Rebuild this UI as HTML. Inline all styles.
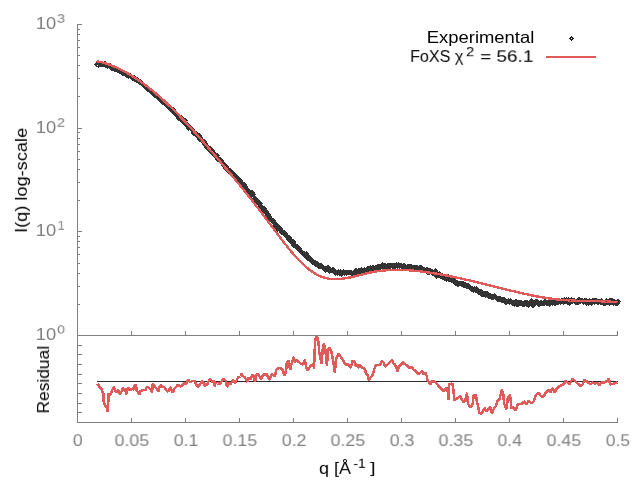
<!DOCTYPE html>
<html><head><meta charset="utf-8"><style>
html,body{margin:0;padding:0;background:#fff;width:640px;height:480px;overflow:hidden}
body{position:relative;font-family:"Liberation Sans",sans-serif}
.t{position:absolute;will-change:transform;-webkit-font-smoothing:antialiased;white-space:nowrap;line-height:1;font-size:16px;transform-origin:0 0;left:0;top:0}
.g{color:#808080}
.k{color:#000}
</style></head><body>
<svg width="640" height="480" viewBox="0 0 640 480" style="position:absolute;left:0;top:0">
<rect x="77" y="24" width="1" height="399" fill="#808080"/>
<rect x="77" y="422" width="541" height="1" fill="#808080"/>
<rect x="77" y="335" width="541" height="1" fill="#808080"/>
<rect x="77" y="335" width="5" height="1" fill="#808080"/>
<rect x="77" y="304" width="3" height="1" fill="#808080"/>
<rect x="77" y="286" width="3" height="1" fill="#808080"/>
<rect x="77" y="273" width="3" height="1" fill="#808080"/>
<rect x="77" y="263" width="3" height="1" fill="#808080"/>
<rect x="77" y="254" width="3" height="1" fill="#808080"/>
<rect x="77" y="247" width="3" height="1" fill="#808080"/>
<rect x="77" y="241" width="3" height="1" fill="#808080"/>
<rect x="77" y="236" width="3" height="1" fill="#808080"/>
<rect x="77" y="231" width="5" height="1" fill="#808080"/>
<rect x="77" y="200" width="3" height="1" fill="#808080"/>
<rect x="77" y="182" width="3" height="1" fill="#808080"/>
<rect x="77" y="169" width="3" height="1" fill="#808080"/>
<rect x="77" y="159" width="3" height="1" fill="#808080"/>
<rect x="77" y="151" width="3" height="1" fill="#808080"/>
<rect x="77" y="144" width="3" height="1" fill="#808080"/>
<rect x="77" y="138" width="3" height="1" fill="#808080"/>
<rect x="77" y="132" width="3" height="1" fill="#808080"/>
<rect x="77" y="128" width="5" height="1" fill="#808080"/>
<rect x="77" y="96" width="3" height="1" fill="#808080"/>
<rect x="77" y="78" width="3" height="1" fill="#808080"/>
<rect x="77" y="65" width="3" height="1" fill="#808080"/>
<rect x="77" y="55" width="3" height="1" fill="#808080"/>
<rect x="77" y="47" width="3" height="1" fill="#808080"/>
<rect x="77" y="40" width="3" height="1" fill="#808080"/>
<rect x="77" y="34" width="3" height="1" fill="#808080"/>
<rect x="77" y="29" width="3" height="1" fill="#808080"/>
<rect x="77" y="24" width="5" height="1" fill="#808080"/>
<rect x="77" y="331" width="1" height="5" fill="#808080"/>
<rect x="77" y="418" width="1" height="5" fill="#808080"/>
<rect x="131" y="331" width="1" height="5" fill="#808080"/>
<rect x="131" y="418" width="1" height="5" fill="#808080"/>
<rect x="185" y="331" width="1" height="5" fill="#808080"/>
<rect x="185" y="418" width="1" height="5" fill="#808080"/>
<rect x="239" y="331" width="1" height="5" fill="#808080"/>
<rect x="239" y="418" width="1" height="5" fill="#808080"/>
<rect x="293" y="331" width="1" height="5" fill="#808080"/>
<rect x="293" y="418" width="1" height="5" fill="#808080"/>
<rect x="347" y="331" width="1" height="5" fill="#808080"/>
<rect x="347" y="418" width="1" height="5" fill="#808080"/>
<rect x="401" y="331" width="1" height="5" fill="#808080"/>
<rect x="401" y="418" width="1" height="5" fill="#808080"/>
<rect x="455" y="331" width="1" height="5" fill="#808080"/>
<rect x="455" y="418" width="1" height="5" fill="#808080"/>
<rect x="509" y="331" width="1" height="5" fill="#808080"/>
<rect x="509" y="418" width="1" height="5" fill="#808080"/>
<rect x="563" y="331" width="1" height="5" fill="#808080"/>
<rect x="563" y="418" width="1" height="5" fill="#808080"/>
<rect x="617" y="331" width="1" height="5" fill="#808080"/>
<rect x="617" y="418" width="1" height="5" fill="#808080"/>
<rect x="77" y="345" width="5" height="1" fill="#808080"/>
<rect x="77" y="354" width="5" height="1" fill="#808080"/>
<rect x="77" y="364" width="5" height="1" fill="#808080"/>
<rect x="77" y="374" width="5" height="1" fill="#808080"/>
<rect x="77" y="383" width="5" height="1" fill="#808080"/>
<rect x="77" y="393" width="5" height="1" fill="#808080"/>
<rect x="77" y="403" width="5" height="1" fill="#808080"/>
<rect x="77" y="412" width="5" height="1" fill="#808080"/>
<rect x="97" y="381" width="521" height="1" fill="#2b2b2b"/>
<path d="M97.3 62.3l2.3 2.3l-2.3 2.3l-2.3 -2.3zM98.2 62.6l2.3 2.3l-2.3 2.3l-2.3 -2.3z" fill="none" stroke="#333333" stroke-width="1.1" shape-rendering="crispEdges"/>
<path d="M100.2 62.1l2.3 2.3l-2.3 2.3l-2.3 -2.3zM101.1 62.2l2.3 2.3l-2.3 2.3l-2.3 -2.3zM102.1 61.4l2.3 2.3l-2.3 2.3l-2.3 -2.3zM103.0 62.6l2.3 2.3l-2.3 2.3l-2.3 -2.3zM104.0 62.4l2.3 2.3l-2.3 2.3l-2.3 -2.3zM104.9 61.6l2.3 2.3l-2.3 2.3l-2.3 -2.3zM105.9 63.3l2.3 2.3l-2.3 2.3l-2.3 -2.3zM106.8 62.8l2.3 2.3l-2.3 2.3l-2.3 -2.3zM107.8 63.5l2.3 2.3l-2.3 2.3l-2.3 -2.3zM108.7 63.1l2.3 2.3l-2.3 2.3l-2.3 -2.3zM109.7 64.0l2.3 2.3l-2.3 2.3l-2.3 -2.3zM110.6 64.0l2.3 2.3l-2.3 2.3l-2.3 -2.3zM111.6 65.3l2.3 2.3l-2.3 2.3l-2.3 -2.3zM112.5 65.4l2.3 2.3l-2.3 2.3l-2.3 -2.3zM113.5 65.6l2.3 2.3l-2.3 2.3l-2.3 -2.3zM114.4 66.2l2.3 2.3l-2.3 2.3l-2.3 -2.3zM115.4 67.2l2.3 2.3l-2.3 2.3l-2.3 -2.3zM116.3 67.0l2.3 2.3l-2.3 2.3l-2.3 -2.3zM117.3 67.9l2.3 2.3l-2.3 2.3l-2.3 -2.3zM118.2 67.8l2.3 2.3l-2.3 2.3l-2.3 -2.3zM119.2 68.1l2.3 2.3l-2.3 2.3l-2.3 -2.3zM120.1 69.0l2.3 2.3l-2.3 2.3l-2.3 -2.3zM121.1 69.5l2.3 2.3l-2.3 2.3l-2.3 -2.3zM122.0 70.2l2.3 2.3l-2.3 2.3l-2.3 -2.3zM123.0 70.9l2.3 2.3l-2.3 2.3l-2.3 -2.3zM123.9 70.9l2.3 2.3l-2.3 2.3l-2.3 -2.3zM124.9 71.4l2.3 2.3l-2.3 2.3l-2.3 -2.3zM125.8 72.3l2.3 2.3l-2.3 2.3l-2.3 -2.3zM126.8 72.7l2.3 2.3l-2.3 2.3l-2.3 -2.3zM127.7 73.0l2.3 2.3l-2.3 2.3l-2.3 -2.3zM128.7 73.6l2.3 2.3l-2.3 2.3l-2.3 -2.3zM129.6 73.2l2.3 2.3l-2.3 2.3l-2.3 -2.3zM130.6 74.2l2.3 2.3l-2.3 2.3l-2.3 -2.3zM131.5 74.3l2.3 2.3l-2.3 2.3l-2.3 -2.3zM132.5 75.3l2.3 2.3l-2.3 2.3l-2.3 -2.3zM133.4 76.2l2.3 2.3l-2.3 2.3l-2.3 -2.3zM134.4 75.8l2.3 2.3l-2.3 2.3l-2.3 -2.3zM135.3 77.2l2.3 2.3l-2.3 2.3l-2.3 -2.3zM136.2 77.2l2.3 2.3l-2.3 2.3l-2.3 -2.3zM137.2 77.9l2.3 2.3l-2.3 2.3l-2.3 -2.3zM138.1 78.4l2.3 2.3l-2.3 2.3l-2.3 -2.3zM139.1 79.5l2.3 2.3l-2.3 2.3l-2.3 -2.3zM140.0 79.7l2.3 2.3l-2.3 2.3l-2.3 -2.3zM141.0 79.9l2.3 2.3l-2.3 2.3l-2.3 -2.3zM141.9 81.4l2.3 2.3l-2.3 2.3l-2.3 -2.3zM142.9 82.1l2.3 2.3l-2.3 2.3l-2.3 -2.3zM143.8 83.1l2.3 2.3l-2.3 2.3l-2.3 -2.3zM144.8 83.9l2.3 2.3l-2.3 2.3l-2.3 -2.3zM145.7 84.1l2.3 2.3l-2.3 2.3l-2.3 -2.3zM146.7 85.5l2.3 2.3l-2.3 2.3l-2.3 -2.3zM147.6 86.3l2.3 2.3l-2.3 2.3l-2.3 -2.3zM148.6 87.1l2.3 2.3l-2.3 2.3l-2.3 -2.3zM149.5 88.0l2.3 2.3l-2.3 2.3l-2.3 -2.3zM150.5 88.9l2.3 2.3l-2.3 2.3l-2.3 -2.3zM151.4 89.5l2.3 2.3l-2.3 2.3l-2.3 -2.3zM152.4 90.4l2.3 2.3l-2.3 2.3l-2.3 -2.3zM153.3 91.6l2.3 2.3l-2.3 2.3l-2.3 -2.3zM154.3 91.7l2.3 2.3l-2.3 2.3l-2.3 -2.3zM155.2 92.9l2.3 2.3l-2.3 2.3l-2.3 -2.3zM156.2 93.4l2.3 2.3l-2.3 2.3l-2.3 -2.3zM157.1 94.2l2.3 2.3l-2.3 2.3l-2.3 -2.3zM158.1 95.2l2.3 2.3l-2.3 2.3l-2.3 -2.3zM159.0 96.2l2.3 2.3l-2.3 2.3l-2.3 -2.3zM160.0 97.5l2.3 2.3l-2.3 2.3l-2.3 -2.3zM160.9 97.7l2.3 2.3l-2.3 2.3l-2.3 -2.3zM161.9 98.9l2.3 2.3l-2.3 2.3l-2.3 -2.3zM162.8 99.6l2.3 2.3l-2.3 2.3l-2.3 -2.3zM163.8 100.3l2.3 2.3l-2.3 2.3l-2.3 -2.3zM164.7 100.1l2.3 2.3l-2.3 2.3l-2.3 -2.3zM165.7 102.0l2.3 2.3l-2.3 2.3l-2.3 -2.3zM166.6 102.9l2.3 2.3l-2.3 2.3l-2.3 -2.3zM167.6 103.3l2.3 2.3l-2.3 2.3l-2.3 -2.3zM168.5 104.6l2.3 2.3l-2.3 2.3l-2.3 -2.3zM169.5 106.0l2.3 2.3l-2.3 2.3l-2.3 -2.3zM170.4 105.3l2.3 2.3l-2.3 2.3l-2.3 -2.3zM171.4 106.8l2.3 2.3l-2.3 2.3l-2.3 -2.3zM172.3 108.9l2.3 2.3l-2.3 2.3l-2.3 -2.3zM173.3 107.4l2.3 2.3l-2.3 2.3l-2.3 -2.3zM174.2 109.0l2.3 2.3l-2.3 2.3l-2.3 -2.3zM175.2 111.1l2.3 2.3l-2.3 2.3l-2.3 -2.3zM176.1 112.6l2.3 2.3l-2.3 2.3l-2.3 -2.3zM177.1 113.7l2.3 2.3l-2.3 2.3l-2.3 -2.3zM178.0 114.3l2.3 2.3l-2.3 2.3l-2.3 -2.3zM179.0 116.6l2.3 2.3l-2.3 2.3l-2.3 -2.3zM179.9 115.8l2.3 2.3l-2.3 2.3l-2.3 -2.3zM180.9 115.2l2.3 2.3l-2.3 2.3l-2.3 -2.3zM181.8 117.1l2.3 2.3l-2.3 2.3l-2.3 -2.3zM182.8 118.8l2.3 2.3l-2.3 2.3l-2.3 -2.3zM183.7 119.5l2.3 2.3l-2.3 2.3l-2.3 -2.3zM184.7 118.4l2.3 2.3l-2.3 2.3l-2.3 -2.3zM185.6 121.5l2.3 2.3l-2.3 2.3l-2.3 -2.3zM186.6 121.4l2.3 2.3l-2.3 2.3l-2.3 -2.3zM187.5 122.9l2.3 2.3l-2.3 2.3l-2.3 -2.3zM188.5 125.3l2.3 2.3l-2.3 2.3l-2.3 -2.3zM189.4 124.8l2.3 2.3l-2.3 2.3l-2.3 -2.3zM190.4 125.4l2.3 2.3l-2.3 2.3l-2.3 -2.3zM191.3 126.8l2.3 2.3l-2.3 2.3l-2.3 -2.3zM192.3 127.3l2.3 2.3l-2.3 2.3l-2.3 -2.3zM193.2 130.8l2.3 2.3l-2.3 2.3l-2.3 -2.3zM194.2 130.6l2.3 2.3l-2.3 2.3l-2.3 -2.3zM195.1 131.7l2.3 2.3l-2.3 2.3l-2.3 -2.3zM196.1 131.3l2.3 2.3l-2.3 2.3l-2.3 -2.3zM197.0 132.3l2.3 2.3l-2.3 2.3l-2.3 -2.3zM198.0 134.1l2.3 2.3l-2.3 2.3l-2.3 -2.3zM198.9 132.9l2.3 2.3l-2.3 2.3l-2.3 -2.3zM199.9 136.8l2.3 2.3l-2.3 2.3l-2.3 -2.3zM200.8 135.8l2.3 2.3l-2.3 2.3l-2.3 -2.3zM201.8 138.0l2.3 2.3l-2.3 2.3l-2.3 -2.3zM202.7 139.3l2.3 2.3l-2.3 2.3l-2.3 -2.3zM203.7 139.3l2.3 2.3l-2.3 2.3l-2.3 -2.3zM204.6 141.3l2.3 2.3l-2.3 2.3l-2.3 -2.3zM205.6 142.6l2.3 2.3l-2.3 2.3l-2.3 -2.3zM206.5 144.8l2.3 2.3l-2.3 2.3l-2.3 -2.3zM207.5 144.4l2.3 2.3l-2.3 2.3l-2.3 -2.3zM208.4 146.7l2.3 2.3l-2.3 2.3l-2.3 -2.3zM209.4 146.6l2.3 2.3l-2.3 2.3l-2.3 -2.3zM210.3 147.0l2.3 2.3l-2.3 2.3l-2.3 -2.3zM211.3 149.0l2.3 2.3l-2.3 2.3l-2.3 -2.3zM212.2 148.8l2.3 2.3l-2.3 2.3l-2.3 -2.3zM213.2 150.4l2.3 2.3l-2.3 2.3l-2.3 -2.3zM214.1 151.9l2.3 2.3l-2.3 2.3l-2.3 -2.3zM215.1 153.4l2.3 2.3l-2.3 2.3l-2.3 -2.3zM216.0 153.7l2.3 2.3l-2.3 2.3l-2.3 -2.3zM217.0 153.2l2.3 2.3l-2.3 2.3l-2.3 -2.3zM217.9 156.7l2.3 2.3l-2.3 2.3l-2.3 -2.3zM218.9 156.7l2.3 2.3l-2.3 2.3l-2.3 -2.3zM219.8 157.4l2.3 2.3l-2.3 2.3l-2.3 -2.3zM220.8 158.0l2.3 2.3l-2.3 2.3l-2.3 -2.3zM221.7 160.3l2.3 2.3l-2.3 2.3l-2.3 -2.3zM222.7 161.1l2.3 2.3l-2.3 2.3l-2.3 -2.3zM223.6 162.5l2.3 2.3l-2.3 2.3l-2.3 -2.3zM224.6 162.8l2.3 2.3l-2.3 2.3l-2.3 -2.3zM225.5 165.4l2.3 2.3l-2.3 2.3l-2.3 -2.3zM226.5 164.8l2.3 2.3l-2.3 2.3l-2.3 -2.3zM227.4 166.5l2.3 2.3l-2.3 2.3l-2.3 -2.3zM228.4 167.3l2.3 2.3l-2.3 2.3l-2.3 -2.3zM229.3 169.1l2.3 2.3l-2.3 2.3l-2.3 -2.3zM230.3 168.6l2.3 2.3l-2.3 2.3l-2.3 -2.3zM231.2 170.0l2.3 2.3l-2.3 2.3l-2.3 -2.3zM232.2 171.1l2.3 2.3l-2.3 2.3l-2.3 -2.3zM233.1 171.7l2.3 2.3l-2.3 2.3l-2.3 -2.3zM234.1 172.7l2.3 2.3l-2.3 2.3l-2.3 -2.3zM235.0 173.2l2.3 2.3l-2.3 2.3l-2.3 -2.3zM236.0 176.0l2.3 2.3l-2.3 2.3l-2.3 -2.3zM236.9 177.7l2.3 2.3l-2.3 2.3l-2.3 -2.3zM237.9 176.5l2.3 2.3l-2.3 2.3l-2.3 -2.3zM238.8 179.1l2.3 2.3l-2.3 2.3l-2.3 -2.3zM239.8 178.4l2.3 2.3l-2.3 2.3l-2.3 -2.3zM240.7 179.7l2.3 2.3l-2.3 2.3l-2.3 -2.3zM241.7 181.2l2.3 2.3l-2.3 2.3l-2.3 -2.3zM242.6 182.6l2.3 2.3l-2.3 2.3l-2.3 -2.3zM243.6 183.9l2.3 2.3l-2.3 2.3l-2.3 -2.3zM244.5 182.8l2.3 2.3l-2.3 2.3l-2.3 -2.3zM245.5 184.4l2.3 2.3l-2.3 2.3l-2.3 -2.3zM246.4 186.7l2.3 2.3l-2.3 2.3l-2.3 -2.3zM247.4 187.4l2.3 2.3l-2.3 2.3l-2.3 -2.3zM248.3 190.6l2.3 2.3l-2.3 2.3l-2.3 -2.3zM249.3 189.5l2.3 2.3l-2.3 2.3l-2.3 -2.3zM250.2 190.3l2.3 2.3l-2.3 2.3l-2.3 -2.3zM251.2 193.0l2.3 2.3l-2.3 2.3l-2.3 -2.3zM252.1 190.6l2.3 2.3l-2.3 2.3l-2.3 -2.3zM253.1 192.5l2.3 2.3l-2.3 2.3l-2.3 -2.3zM254.0 197.7l2.3 2.3l-2.3 2.3l-2.3 -2.3zM255.0 195.8l2.3 2.3l-2.3 2.3l-2.3 -2.3zM255.9 197.6l2.3 2.3l-2.3 2.3l-2.3 -2.3zM256.9 198.5l2.3 2.3l-2.3 2.3l-2.3 -2.3zM257.8 199.1l2.3 2.3l-2.3 2.3l-2.3 -2.3zM258.8 200.9l2.3 2.3l-2.3 2.3l-2.3 -2.3zM259.7 201.1l2.3 2.3l-2.3 2.3l-2.3 -2.3zM260.7 204.4l2.3 2.3l-2.3 2.3l-2.3 -2.3zM261.6 205.4l2.3 2.3l-2.3 2.3l-2.3 -2.3zM262.6 206.6l2.3 2.3l-2.3 2.3l-2.3 -2.3zM263.5 206.4l2.3 2.3l-2.3 2.3l-2.3 -2.3zM264.5 206.8l2.3 2.3l-2.3 2.3l-2.3 -2.3zM265.4 209.3l2.3 2.3l-2.3 2.3l-2.3 -2.3zM266.4 210.1l2.3 2.3l-2.3 2.3l-2.3 -2.3zM267.3 212.6l2.3 2.3l-2.3 2.3l-2.3 -2.3zM268.3 212.1l2.3 2.3l-2.3 2.3l-2.3 -2.3zM269.2 214.0l2.3 2.3l-2.3 2.3l-2.3 -2.3zM270.2 216.1l2.3 2.3l-2.3 2.3l-2.3 -2.3zM271.1 217.6l2.3 2.3l-2.3 2.3l-2.3 -2.3zM272.1 218.5l2.3 2.3l-2.3 2.3l-2.3 -2.3zM273.0 218.4l2.3 2.3l-2.3 2.3l-2.3 -2.3zM274.0 220.1l2.3 2.3l-2.3 2.3l-2.3 -2.3zM274.9 223.6l2.3 2.3l-2.3 2.3l-2.3 -2.3zM275.9 223.7l2.3 2.3l-2.3 2.3l-2.3 -2.3zM276.8 223.1l2.3 2.3l-2.3 2.3l-2.3 -2.3zM277.8 226.6l2.3 2.3l-2.3 2.3l-2.3 -2.3zM278.7 225.7l2.3 2.3l-2.3 2.3l-2.3 -2.3zM279.7 226.8l2.3 2.3l-2.3 2.3l-2.3 -2.3zM280.6 227.0l2.3 2.3l-2.3 2.3l-2.3 -2.3zM281.6 230.1l2.3 2.3l-2.3 2.3l-2.3 -2.3zM282.5 229.7l2.3 2.3l-2.3 2.3l-2.3 -2.3zM283.5 230.5l2.3 2.3l-2.3 2.3l-2.3 -2.3zM284.4 230.7l2.3 2.3l-2.3 2.3l-2.3 -2.3zM285.4 231.3l2.3 2.3l-2.3 2.3l-2.3 -2.3zM286.3 233.6l2.3 2.3l-2.3 2.3l-2.3 -2.3zM287.3 234.4l2.3 2.3l-2.3 2.3l-2.3 -2.3zM288.2 236.7l2.3 2.3l-2.3 2.3l-2.3 -2.3zM289.2 235.5l2.3 2.3l-2.3 2.3l-2.3 -2.3zM290.1 237.0l2.3 2.3l-2.3 2.3l-2.3 -2.3zM291.1 239.2l2.3 2.3l-2.3 2.3l-2.3 -2.3zM292.0 240.0l2.3 2.3l-2.3 2.3l-2.3 -2.3zM293.0 239.7l2.3 2.3l-2.3 2.3l-2.3 -2.3zM293.9 242.6l2.3 2.3l-2.3 2.3l-2.3 -2.3zM294.9 242.7l2.3 2.3l-2.3 2.3l-2.3 -2.3zM295.8 244.0l2.3 2.3l-2.3 2.3l-2.3 -2.3zM296.8 244.5l2.3 2.3l-2.3 2.3l-2.3 -2.3zM297.7 246.1l2.3 2.3l-2.3 2.3l-2.3 -2.3zM298.7 245.8l2.3 2.3l-2.3 2.3l-2.3 -2.3zM299.6 247.0l2.3 2.3l-2.3 2.3l-2.3 -2.3zM300.6 249.1l2.3 2.3l-2.3 2.3l-2.3 -2.3zM301.5 249.4l2.3 2.3l-2.3 2.3l-2.3 -2.3zM302.5 250.3l2.3 2.3l-2.3 2.3l-2.3 -2.3zM303.4 251.9l2.3 2.3l-2.3 2.3l-2.3 -2.3zM304.4 252.0l2.3 2.3l-2.3 2.3l-2.3 -2.3zM305.3 253.1l2.3 2.3l-2.3 2.3l-2.3 -2.3zM306.3 251.6l2.3 2.3l-2.3 2.3l-2.3 -2.3zM307.2 254.0l2.3 2.3l-2.3 2.3l-2.3 -2.3zM308.2 256.1l2.3 2.3l-2.3 2.3l-2.3 -2.3zM309.1 255.4l2.3 2.3l-2.3 2.3l-2.3 -2.3zM310.1 256.7l2.3 2.3l-2.3 2.3l-2.3 -2.3zM311.0 257.9l2.3 2.3l-2.3 2.3l-2.3 -2.3zM312.0 258.4l2.3 2.3l-2.3 2.3l-2.3 -2.3zM312.9 260.0l2.3 2.3l-2.3 2.3l-2.3 -2.3zM313.9 260.4l2.3 2.3l-2.3 2.3l-2.3 -2.3zM314.8 260.5l2.3 2.3l-2.3 2.3l-2.3 -2.3zM315.8 262.2l2.3 2.3l-2.3 2.3l-2.3 -2.3zM316.7 261.6l2.3 2.3l-2.3 2.3l-2.3 -2.3zM317.7 261.8l2.3 2.3l-2.3 2.3l-2.3 -2.3zM318.6 263.3l2.3 2.3l-2.3 2.3l-2.3 -2.3zM319.6 264.1l2.3 2.3l-2.3 2.3l-2.3 -2.3zM320.5 263.9l2.3 2.3l-2.3 2.3l-2.3 -2.3zM321.5 263.6l2.3 2.3l-2.3 2.3l-2.3 -2.3zM322.4 264.5l2.3 2.3l-2.3 2.3l-2.3 -2.3zM323.4 265.6l2.3 2.3l-2.3 2.3l-2.3 -2.3zM324.3 266.3l2.3 2.3l-2.3 2.3l-2.3 -2.3zM325.3 267.7l2.3 2.3l-2.3 2.3l-2.3 -2.3zM326.2 266.3l2.3 2.3l-2.3 2.3l-2.3 -2.3zM327.2 266.6l2.3 2.3l-2.3 2.3l-2.3 -2.3zM328.1 265.2l2.3 2.3l-2.3 2.3l-2.3 -2.3zM329.1 268.6l2.3 2.3l-2.3 2.3l-2.3 -2.3zM330.0 268.3l2.3 2.3l-2.3 2.3l-2.3 -2.3zM331.0 268.1l2.3 2.3l-2.3 2.3l-2.3 -2.3zM331.9 268.0l2.3 2.3l-2.3 2.3l-2.3 -2.3zM332.9 267.1l2.3 2.3l-2.3 2.3l-2.3 -2.3zM333.8 269.4l2.3 2.3l-2.3 2.3l-2.3 -2.3zM334.8 268.8l2.3 2.3l-2.3 2.3l-2.3 -2.3zM335.7 270.4l2.3 2.3l-2.3 2.3l-2.3 -2.3zM336.7 270.2l2.3 2.3l-2.3 2.3l-2.3 -2.3zM337.6 270.7l2.3 2.3l-2.3 2.3l-2.3 -2.3zM338.6 270.0l2.3 2.3l-2.3 2.3l-2.3 -2.3zM339.5 271.0l2.3 2.3l-2.3 2.3l-2.3 -2.3zM340.5 269.5l2.3 2.3l-2.3 2.3l-2.3 -2.3zM341.4 271.4l2.3 2.3l-2.3 2.3l-2.3 -2.3zM342.4 270.5l2.3 2.3l-2.3 2.3l-2.3 -2.3zM343.3 269.9l2.3 2.3l-2.3 2.3l-2.3 -2.3zM344.3 270.4l2.3 2.3l-2.3 2.3l-2.3 -2.3zM345.2 270.1l2.3 2.3l-2.3 2.3l-2.3 -2.3zM346.2 270.8l2.3 2.3l-2.3 2.3l-2.3 -2.3zM347.1 270.2l2.3 2.3l-2.3 2.3l-2.3 -2.3zM348.1 269.9l2.3 2.3l-2.3 2.3l-2.3 -2.3zM349.0 270.4l2.3 2.3l-2.3 2.3l-2.3 -2.3zM350.0 270.4l2.3 2.3l-2.3 2.3l-2.3 -2.3zM350.9 270.5l2.3 2.3l-2.3 2.3l-2.3 -2.3zM351.9 270.7l2.3 2.3l-2.3 2.3l-2.3 -2.3zM352.8 271.0l2.3 2.3l-2.3 2.3l-2.3 -2.3zM353.8 270.3l2.3 2.3l-2.3 2.3l-2.3 -2.3zM354.7 270.9l2.3 2.3l-2.3 2.3l-2.3 -2.3zM355.7 268.3l2.3 2.3l-2.3 2.3l-2.3 -2.3zM356.6 269.6l2.3 2.3l-2.3 2.3l-2.3 -2.3zM357.6 270.0l2.3 2.3l-2.3 2.3l-2.3 -2.3zM358.5 268.5l2.3 2.3l-2.3 2.3l-2.3 -2.3zM359.5 269.0l2.3 2.3l-2.3 2.3l-2.3 -2.3zM360.4 269.0l2.3 2.3l-2.3 2.3l-2.3 -2.3zM361.4 267.8l2.3 2.3l-2.3 2.3l-2.3 -2.3zM362.3 268.1l2.3 2.3l-2.3 2.3l-2.3 -2.3zM363.3 268.6l2.3 2.3l-2.3 2.3l-2.3 -2.3zM364.2 267.9l2.3 2.3l-2.3 2.3l-2.3 -2.3zM365.2 268.8l2.3 2.3l-2.3 2.3l-2.3 -2.3zM366.1 269.0l2.3 2.3l-2.3 2.3l-2.3 -2.3zM367.1 267.4l2.3 2.3l-2.3 2.3l-2.3 -2.3zM368.0 266.5l2.3 2.3l-2.3 2.3l-2.3 -2.3zM369.0 266.9l2.3 2.3l-2.3 2.3l-2.3 -2.3zM369.9 266.4l2.3 2.3l-2.3 2.3l-2.3 -2.3zM370.9 265.7l2.3 2.3l-2.3 2.3l-2.3 -2.3zM371.8 266.1l2.3 2.3l-2.3 2.3l-2.3 -2.3zM372.8 265.8l2.3 2.3l-2.3 2.3l-2.3 -2.3zM373.7 265.7l2.3 2.3l-2.3 2.3l-2.3 -2.3zM374.7 266.2l2.3 2.3l-2.3 2.3l-2.3 -2.3zM375.6 266.1l2.3 2.3l-2.3 2.3l-2.3 -2.3zM376.6 265.5l2.3 2.3l-2.3 2.3l-2.3 -2.3zM377.5 264.9l2.3 2.3l-2.3 2.3l-2.3 -2.3zM378.5 265.2l2.3 2.3l-2.3 2.3l-2.3 -2.3zM379.4 264.8l2.3 2.3l-2.3 2.3l-2.3 -2.3zM380.4 264.8l2.3 2.3l-2.3 2.3l-2.3 -2.3zM381.3 263.9l2.3 2.3l-2.3 2.3l-2.3 -2.3zM382.3 262.5l2.3 2.3l-2.3 2.3l-2.3 -2.3zM383.2 264.8l2.3 2.3l-2.3 2.3l-2.3 -2.3zM384.2 263.8l2.3 2.3l-2.3 2.3l-2.3 -2.3zM385.1 263.7l2.3 2.3l-2.3 2.3l-2.3 -2.3zM386.1 263.9l2.3 2.3l-2.3 2.3l-2.3 -2.3zM387.0 263.8l2.3 2.3l-2.3 2.3l-2.3 -2.3zM388.0 263.6l2.3 2.3l-2.3 2.3l-2.3 -2.3zM388.9 264.6l2.3 2.3l-2.3 2.3l-2.3 -2.3zM389.9 263.8l2.3 2.3l-2.3 2.3l-2.3 -2.3zM390.8 263.8l2.3 2.3l-2.3 2.3l-2.3 -2.3zM391.8 263.1l2.3 2.3l-2.3 2.3l-2.3 -2.3zM392.7 263.5l2.3 2.3l-2.3 2.3l-2.3 -2.3zM393.7 263.8l2.3 2.3l-2.3 2.3l-2.3 -2.3zM394.6 263.5l2.3 2.3l-2.3 2.3l-2.3 -2.3zM395.6 263.8l2.3 2.3l-2.3 2.3l-2.3 -2.3zM396.5 263.0l2.3 2.3l-2.3 2.3l-2.3 -2.3zM397.5 263.8l2.3 2.3l-2.3 2.3l-2.3 -2.3zM398.4 263.0l2.3 2.3l-2.3 2.3l-2.3 -2.3zM399.4 263.4l2.3 2.3l-2.3 2.3l-2.3 -2.3zM400.3 263.3l2.3 2.3l-2.3 2.3l-2.3 -2.3zM401.3 263.9l2.3 2.3l-2.3 2.3l-2.3 -2.3zM402.2 264.5l2.3 2.3l-2.3 2.3l-2.3 -2.3zM403.2 264.1l2.3 2.3l-2.3 2.3l-2.3 -2.3zM404.1 263.5l2.3 2.3l-2.3 2.3l-2.3 -2.3zM405.1 264.2l2.3 2.3l-2.3 2.3l-2.3 -2.3zM406.0 264.9l2.3 2.3l-2.3 2.3l-2.3 -2.3zM407.0 264.8l2.3 2.3l-2.3 2.3l-2.3 -2.3zM407.9 264.8l2.3 2.3l-2.3 2.3l-2.3 -2.3zM408.9 263.9l2.3 2.3l-2.3 2.3l-2.3 -2.3zM409.8 264.4l2.3 2.3l-2.3 2.3l-2.3 -2.3zM410.8 264.5l2.3 2.3l-2.3 2.3l-2.3 -2.3zM411.7 264.8l2.3 2.3l-2.3 2.3l-2.3 -2.3zM412.7 265.3l2.3 2.3l-2.3 2.3l-2.3 -2.3zM413.6 265.4l2.3 2.3l-2.3 2.3l-2.3 -2.3zM414.6 265.3l2.3 2.3l-2.3 2.3l-2.3 -2.3zM415.5 266.1l2.3 2.3l-2.3 2.3l-2.3 -2.3zM416.5 265.5l2.3 2.3l-2.3 2.3l-2.3 -2.3zM417.4 265.9l2.3 2.3l-2.3 2.3l-2.3 -2.3zM418.4 266.4l2.3 2.3l-2.3 2.3l-2.3 -2.3zM419.3 265.7l2.3 2.3l-2.3 2.3l-2.3 -2.3zM420.3 266.0l2.3 2.3l-2.3 2.3l-2.3 -2.3zM421.2 265.7l2.3 2.3l-2.3 2.3l-2.3 -2.3zM422.2 266.3l2.3 2.3l-2.3 2.3l-2.3 -2.3zM423.1 267.3l2.3 2.3l-2.3 2.3l-2.3 -2.3zM424.1 267.6l2.3 2.3l-2.3 2.3l-2.3 -2.3zM425.0 268.2l2.3 2.3l-2.3 2.3l-2.3 -2.3zM426.0 268.5l2.3 2.3l-2.3 2.3l-2.3 -2.3zM426.9 267.4l2.3 2.3l-2.3 2.3l-2.3 -2.3zM427.9 270.4l2.3 2.3l-2.3 2.3l-2.3 -2.3zM428.8 270.2l2.3 2.3l-2.3 2.3l-2.3 -2.3zM429.8 268.2l2.3 2.3l-2.3 2.3l-2.3 -2.3zM430.7 268.9l2.3 2.3l-2.3 2.3l-2.3 -2.3zM431.7 269.4l2.3 2.3l-2.3 2.3l-2.3 -2.3zM432.6 270.3l2.3 2.3l-2.3 2.3l-2.3 -2.3zM433.6 271.0l2.3 2.3l-2.3 2.3l-2.3 -2.3zM434.5 270.8l2.3 2.3l-2.3 2.3l-2.3 -2.3zM435.5 268.8l2.3 2.3l-2.3 2.3l-2.3 -2.3zM436.4 274.0l2.3 2.3l-2.3 2.3l-2.3 -2.3zM437.4 272.5l2.3 2.3l-2.3 2.3l-2.3 -2.3zM438.3 272.8l2.3 2.3l-2.3 2.3l-2.3 -2.3zM439.3 271.7l2.3 2.3l-2.3 2.3l-2.3 -2.3zM440.2 272.8l2.3 2.3l-2.3 2.3l-2.3 -2.3zM441.2 273.9l2.3 2.3l-2.3 2.3l-2.3 -2.3zM442.1 273.0l2.3 2.3l-2.3 2.3l-2.3 -2.3zM443.1 274.8l2.3 2.3l-2.3 2.3l-2.3 -2.3zM444.0 274.2l2.3 2.3l-2.3 2.3l-2.3 -2.3zM445.0 275.9l2.3 2.3l-2.3 2.3l-2.3 -2.3zM445.9 274.9l2.3 2.3l-2.3 2.3l-2.3 -2.3zM446.9 276.6l2.3 2.3l-2.3 2.3l-2.3 -2.3zM447.8 274.2l2.3 2.3l-2.3 2.3l-2.3 -2.3zM448.8 277.3l2.3 2.3l-2.3 2.3l-2.3 -2.3zM449.7 276.8l2.3 2.3l-2.3 2.3l-2.3 -2.3zM450.7 276.4l2.3 2.3l-2.3 2.3l-2.3 -2.3zM451.6 278.1l2.3 2.3l-2.3 2.3l-2.3 -2.3zM452.6 277.3l2.3 2.3l-2.3 2.3l-2.3 -2.3zM453.5 278.7l2.3 2.3l-2.3 2.3l-2.3 -2.3zM454.5 279.2l2.3 2.3l-2.3 2.3l-2.3 -2.3zM455.4 279.7l2.3 2.3l-2.3 2.3l-2.3 -2.3zM456.4 281.2l2.3 2.3l-2.3 2.3l-2.3 -2.3zM457.3 280.8l2.3 2.3l-2.3 2.3l-2.3 -2.3zM458.3 282.3l2.3 2.3l-2.3 2.3l-2.3 -2.3zM459.2 281.1l2.3 2.3l-2.3 2.3l-2.3 -2.3zM460.2 281.0l2.3 2.3l-2.3 2.3l-2.3 -2.3zM461.1 281.6l2.3 2.3l-2.3 2.3l-2.3 -2.3zM462.1 281.7l2.3 2.3l-2.3 2.3l-2.3 -2.3zM463.0 281.0l2.3 2.3l-2.3 2.3l-2.3 -2.3zM464.0 282.7l2.3 2.3l-2.3 2.3l-2.3 -2.3zM464.9 281.9l2.3 2.3l-2.3 2.3l-2.3 -2.3zM465.9 283.1l2.3 2.3l-2.3 2.3l-2.3 -2.3zM466.8 283.5l2.3 2.3l-2.3 2.3l-2.3 -2.3zM467.8 283.7l2.3 2.3l-2.3 2.3l-2.3 -2.3zM468.7 283.7l2.3 2.3l-2.3 2.3l-2.3 -2.3zM469.7 285.2l2.3 2.3l-2.3 2.3l-2.3 -2.3zM470.6 285.5l2.3 2.3l-2.3 2.3l-2.3 -2.3zM471.6 287.1l2.3 2.3l-2.3 2.3l-2.3 -2.3zM472.5 286.9l2.3 2.3l-2.3 2.3l-2.3 -2.3zM473.5 287.6l2.3 2.3l-2.3 2.3l-2.3 -2.3zM474.4 286.7l2.3 2.3l-2.3 2.3l-2.3 -2.3zM475.4 287.3l2.3 2.3l-2.3 2.3l-2.3 -2.3zM476.3 286.9l2.3 2.3l-2.3 2.3l-2.3 -2.3zM477.3 287.6l2.3 2.3l-2.3 2.3l-2.3 -2.3zM478.2 289.5l2.3 2.3l-2.3 2.3l-2.3 -2.3zM479.2 289.0l2.3 2.3l-2.3 2.3l-2.3 -2.3zM480.1 289.5l2.3 2.3l-2.3 2.3l-2.3 -2.3zM481.1 289.5l2.3 2.3l-2.3 2.3l-2.3 -2.3zM482.0 291.8l2.3 2.3l-2.3 2.3l-2.3 -2.3zM483.0 290.8l2.3 2.3l-2.3 2.3l-2.3 -2.3zM483.9 292.2l2.3 2.3l-2.3 2.3l-2.3 -2.3zM484.9 291.6l2.3 2.3l-2.3 2.3l-2.3 -2.3zM485.8 292.8l2.3 2.3l-2.3 2.3l-2.3 -2.3zM486.8 291.5l2.3 2.3l-2.3 2.3l-2.3 -2.3zM487.7 291.5l2.3 2.3l-2.3 2.3l-2.3 -2.3zM488.7 294.1l2.3 2.3l-2.3 2.3l-2.3 -2.3zM489.6 293.2l2.3 2.3l-2.3 2.3l-2.3 -2.3zM490.6 294.1l2.3 2.3l-2.3 2.3l-2.3 -2.3zM491.5 294.9l2.3 2.3l-2.3 2.3l-2.3 -2.3zM492.5 295.1l2.3 2.3l-2.3 2.3l-2.3 -2.3zM493.4 295.1l2.3 2.3l-2.3 2.3l-2.3 -2.3zM494.4 294.1l2.3 2.3l-2.3 2.3l-2.3 -2.3zM495.3 294.9l2.3 2.3l-2.3 2.3l-2.3 -2.3zM496.3 295.9l2.3 2.3l-2.3 2.3l-2.3 -2.3zM497.2 296.7l2.3 2.3l-2.3 2.3l-2.3 -2.3zM498.2 296.9l2.3 2.3l-2.3 2.3l-2.3 -2.3zM499.1 297.1l2.3 2.3l-2.3 2.3l-2.3 -2.3zM500.1 296.4l2.3 2.3l-2.3 2.3l-2.3 -2.3zM501.0 297.3l2.3 2.3l-2.3 2.3l-2.3 -2.3zM502.0 298.5l2.3 2.3l-2.3 2.3l-2.3 -2.3zM502.9 297.1l2.3 2.3l-2.3 2.3l-2.3 -2.3zM503.9 297.6l2.3 2.3l-2.3 2.3l-2.3 -2.3zM504.8 299.2l2.3 2.3l-2.3 2.3l-2.3 -2.3zM505.8 300.1l2.3 2.3l-2.3 2.3l-2.3 -2.3zM506.7 299.3l2.3 2.3l-2.3 2.3l-2.3 -2.3zM507.7 299.1l2.3 2.3l-2.3 2.3l-2.3 -2.3zM508.6 298.5l2.3 2.3l-2.3 2.3l-2.3 -2.3zM509.6 299.4l2.3 2.3l-2.3 2.3l-2.3 -2.3zM510.5 299.0l2.3 2.3l-2.3 2.3l-2.3 -2.3zM511.5 300.1l2.3 2.3l-2.3 2.3l-2.3 -2.3zM512.4 300.7l2.3 2.3l-2.3 2.3l-2.3 -2.3zM513.4 300.7l2.3 2.3l-2.3 2.3l-2.3 -2.3zM514.3 301.6l2.3 2.3l-2.3 2.3l-2.3 -2.3zM515.3 299.7l2.3 2.3l-2.3 2.3l-2.3 -2.3zM516.2 299.6l2.3 2.3l-2.3 2.3l-2.3 -2.3zM517.2 302.1l2.3 2.3l-2.3 2.3l-2.3 -2.3zM518.1 301.9l2.3 2.3l-2.3 2.3l-2.3 -2.3zM519.1 300.2l2.3 2.3l-2.3 2.3l-2.3 -2.3zM520.0 301.3l2.3 2.3l-2.3 2.3l-2.3 -2.3zM521.0 300.3l2.3 2.3l-2.3 2.3l-2.3 -2.3zM521.9 301.3l2.3 2.3l-2.3 2.3l-2.3 -2.3zM522.9 301.6l2.3 2.3l-2.3 2.3l-2.3 -2.3zM523.8 302.2l2.3 2.3l-2.3 2.3l-2.3 -2.3zM524.8 300.5l2.3 2.3l-2.3 2.3l-2.3 -2.3zM525.7 300.3l2.3 2.3l-2.3 2.3l-2.3 -2.3zM526.7 301.9l2.3 2.3l-2.3 2.3l-2.3 -2.3zM527.6 301.1l2.3 2.3l-2.3 2.3l-2.3 -2.3zM528.6 302.7l2.3 2.3l-2.3 2.3l-2.3 -2.3zM529.5 300.4l2.3 2.3l-2.3 2.3l-2.3 -2.3zM530.5 300.8l2.3 2.3l-2.3 2.3l-2.3 -2.3zM531.4 298.9l2.3 2.3l-2.3 2.3l-2.3 -2.3zM532.4 302.3l2.3 2.3l-2.3 2.3l-2.3 -2.3zM533.3 302.5l2.3 2.3l-2.3 2.3l-2.3 -2.3zM534.3 301.6l2.3 2.3l-2.3 2.3l-2.3 -2.3zM535.2 300.9l2.3 2.3l-2.3 2.3l-2.3 -2.3zM536.2 299.3l2.3 2.3l-2.3 2.3l-2.3 -2.3zM537.1 299.8l2.3 2.3l-2.3 2.3l-2.3 -2.3zM538.1 300.5l2.3 2.3l-2.3 2.3l-2.3 -2.3zM539.0 302.6l2.3 2.3l-2.3 2.3l-2.3 -2.3zM540.0 301.6l2.3 2.3l-2.3 2.3l-2.3 -2.3zM540.9 300.2l2.3 2.3l-2.3 2.3l-2.3 -2.3zM541.9 301.0l2.3 2.3l-2.3 2.3l-2.3 -2.3zM542.8 301.0l2.3 2.3l-2.3 2.3l-2.3 -2.3zM543.8 300.9l2.3 2.3l-2.3 2.3l-2.3 -2.3zM544.7 299.5l2.3 2.3l-2.3 2.3l-2.3 -2.3zM545.7 299.9l2.3 2.3l-2.3 2.3l-2.3 -2.3zM546.6 301.1l2.3 2.3l-2.3 2.3l-2.3 -2.3zM547.6 300.7l2.3 2.3l-2.3 2.3l-2.3 -2.3zM548.5 299.7l2.3 2.3l-2.3 2.3l-2.3 -2.3zM549.5 302.1l2.3 2.3l-2.3 2.3l-2.3 -2.3zM550.4 300.0l2.3 2.3l-2.3 2.3l-2.3 -2.3zM551.4 299.3l2.3 2.3l-2.3 2.3l-2.3 -2.3zM552.3 300.4l2.3 2.3l-2.3 2.3l-2.3 -2.3zM553.3 300.2l2.3 2.3l-2.3 2.3l-2.3 -2.3zM554.2 299.3l2.3 2.3l-2.3 2.3l-2.3 -2.3zM555.2 301.0l2.3 2.3l-2.3 2.3l-2.3 -2.3zM556.1 300.2l2.3 2.3l-2.3 2.3l-2.3 -2.3zM557.1 299.2l2.3 2.3l-2.3 2.3l-2.3 -2.3zM558.0 299.8l2.3 2.3l-2.3 2.3l-2.3 -2.3zM559.0 299.6l2.3 2.3l-2.3 2.3l-2.3 -2.3zM559.9 298.7l2.3 2.3l-2.3 2.3l-2.3 -2.3zM560.9 299.6l2.3 2.3l-2.3 2.3l-2.3 -2.3zM561.8 298.4l2.3 2.3l-2.3 2.3l-2.3 -2.3zM562.8 298.6l2.3 2.3l-2.3 2.3l-2.3 -2.3zM563.7 299.4l2.3 2.3l-2.3 2.3l-2.3 -2.3zM564.7 297.6l2.3 2.3l-2.3 2.3l-2.3 -2.3zM565.6 298.4l2.3 2.3l-2.3 2.3l-2.3 -2.3zM566.6 297.8l2.3 2.3l-2.3 2.3l-2.3 -2.3zM567.5 299.3l2.3 2.3l-2.3 2.3l-2.3 -2.3zM568.5 298.1l2.3 2.3l-2.3 2.3l-2.3 -2.3zM569.4 300.3l2.3 2.3l-2.3 2.3l-2.3 -2.3zM570.4 300.0l2.3 2.3l-2.3 2.3l-2.3 -2.3zM571.3 298.0l2.3 2.3l-2.3 2.3l-2.3 -2.3zM572.3 298.7l2.3 2.3l-2.3 2.3l-2.3 -2.3zM573.2 298.3l2.3 2.3l-2.3 2.3l-2.3 -2.3zM574.2 298.6l2.3 2.3l-2.3 2.3l-2.3 -2.3zM575.1 299.2l2.3 2.3l-2.3 2.3l-2.3 -2.3zM576.1 299.9l2.3 2.3l-2.3 2.3l-2.3 -2.3zM577.0 300.6l2.3 2.3l-2.3 2.3l-2.3 -2.3zM578.0 300.3l2.3 2.3l-2.3 2.3l-2.3 -2.3zM578.9 297.5l2.3 2.3l-2.3 2.3l-2.3 -2.3zM579.9 298.3l2.3 2.3l-2.3 2.3l-2.3 -2.3zM580.8 298.5l2.3 2.3l-2.3 2.3l-2.3 -2.3zM581.8 298.4l2.3 2.3l-2.3 2.3l-2.3 -2.3zM582.7 298.9l2.3 2.3l-2.3 2.3l-2.3 -2.3zM583.7 299.4l2.3 2.3l-2.3 2.3l-2.3 -2.3zM584.6 298.4l2.3 2.3l-2.3 2.3l-2.3 -2.3zM585.6 298.3l2.3 2.3l-2.3 2.3l-2.3 -2.3zM586.5 301.0l2.3 2.3l-2.3 2.3l-2.3 -2.3zM587.5 299.5l2.3 2.3l-2.3 2.3l-2.3 -2.3zM588.4 300.9l2.3 2.3l-2.3 2.3l-2.3 -2.3zM589.4 298.5l2.3 2.3l-2.3 2.3l-2.3 -2.3zM590.3 300.3l2.3 2.3l-2.3 2.3l-2.3 -2.3zM591.3 300.6l2.3 2.3l-2.3 2.3l-2.3 -2.3zM592.2 300.3l2.3 2.3l-2.3 2.3l-2.3 -2.3zM593.2 298.5l2.3 2.3l-2.3 2.3l-2.3 -2.3zM594.1 299.7l2.3 2.3l-2.3 2.3l-2.3 -2.3zM595.1 298.6l2.3 2.3l-2.3 2.3l-2.3 -2.3zM596.0 298.3l2.3 2.3l-2.3 2.3l-2.3 -2.3zM597.0 299.3l2.3 2.3l-2.3 2.3l-2.3 -2.3zM597.9 299.8l2.3 2.3l-2.3 2.3l-2.3 -2.3zM598.9 299.2l2.3 2.3l-2.3 2.3l-2.3 -2.3zM599.8 299.4l2.3 2.3l-2.3 2.3l-2.3 -2.3zM600.8 300.1l2.3 2.3l-2.3 2.3l-2.3 -2.3zM601.7 298.9l2.3 2.3l-2.3 2.3l-2.3 -2.3zM602.7 300.0l2.3 2.3l-2.3 2.3l-2.3 -2.3zM603.6 300.3l2.3 2.3l-2.3 2.3l-2.3 -2.3zM604.6 300.3l2.3 2.3l-2.3 2.3l-2.3 -2.3zM605.5 300.2l2.3 2.3l-2.3 2.3l-2.3 -2.3zM606.5 298.8l2.3 2.3l-2.3 2.3l-2.3 -2.3zM607.5 299.5l2.3 2.3l-2.3 2.3l-2.3 -2.3zM608.4 299.4l2.3 2.3l-2.3 2.3l-2.3 -2.3zM609.4 300.5l2.3 2.3l-2.3 2.3l-2.3 -2.3zM610.3 298.3l2.3 2.3l-2.3 2.3l-2.3 -2.3zM611.3 300.0l2.3 2.3l-2.3 2.3l-2.3 -2.3zM612.2 298.5l2.3 2.3l-2.3 2.3l-2.3 -2.3zM613.2 300.5l2.3 2.3l-2.3 2.3l-2.3 -2.3zM614.1 299.5l2.3 2.3l-2.3 2.3l-2.3 -2.3zM615.1 300.0l2.3 2.3l-2.3 2.3l-2.3 -2.3zM616.0 300.8l2.3 2.3l-2.3 2.3l-2.3 -2.3zM617.0 301.5l2.3 2.3l-2.3 2.3l-2.3 -2.3zM617.9 299.1l2.3 2.3l-2.3 2.3l-2.3 -2.3z" fill="#333333" stroke="#333333" stroke-width="1.1" shape-rendering="crispEdges"/>
<path d="M96.5 61.1 L97.5 61.3 L98.5 61.5 L99.5 61.8 L100.5 62.0 L101.5 62.2 L102.5 62.5 L103.5 62.8 L104.5 63.1 L105.5 63.4 L106.5 63.7 L107.5 64.0 L108.5 64.4 L109.5 64.7 L110.5 65.1 L111.5 65.5 L112.5 65.9 L113.5 66.3 L114.5 66.7 L115.5 67.2 L116.5 67.6 L117.5 68.1 L118.5 68.5 L119.5 69.0 L120.5 69.5 L121.5 70.0 L122.5 70.5 L123.5 71.1 L124.5 71.6 L125.5 72.1 L126.5 72.7 L127.5 73.3 L128.5 73.8 L129.5 74.4 L130.5 75.0 L131.5 75.6 L132.5 76.3 L133.5 76.9 L134.5 77.5 L135.5 78.2 L136.5 78.8 L137.5 79.5 L138.5 80.2 L139.5 80.9 L140.5 81.6 L141.5 82.3 L142.5 83.0 L143.5 83.7 L144.5 84.5 L145.5 85.2 L146.5 86.0 L147.5 86.7 L148.5 87.5 L149.5 88.3 L150.5 89.1 L151.5 89.9 L152.5 90.7 L153.5 91.5 L154.5 92.3 L155.5 93.2 L156.5 94.0 L157.5 94.9 L158.5 95.7 L159.5 96.6 L160.5 97.5 L161.5 98.4 L162.5 99.3 L163.5 100.2 L164.5 101.1 L165.5 102.1 L166.5 103.0 L167.5 103.9 L168.5 104.9 L169.5 105.8 L170.5 106.8 L171.5 107.8 L172.5 108.8 L173.5 109.7 L174.5 110.7 L175.5 111.7 L176.5 112.8 L177.5 113.8 L178.5 114.8 L179.5 115.8 L180.5 116.9 L181.5 117.9 L182.5 118.9 L183.5 120.0 L184.5 121.1 L185.5 122.1 L186.5 123.2 L187.5 124.3 L188.5 125.4 L189.5 126.4 L190.5 127.5 L191.5 128.6 L192.5 129.7 L193.5 130.8 L194.5 132.0 L195.5 133.1 L196.5 134.2 L197.5 135.3 L198.5 136.4 L199.5 137.6 L200.5 138.7 L201.5 139.8 L202.5 141.0 L203.5 142.1 L204.5 143.3 L205.5 144.4 L206.5 145.6 L207.5 146.8 L208.5 147.9 L209.5 149.1 L210.5 150.2 L211.5 151.4 L212.5 152.6 L213.5 153.8 L214.5 154.9 L215.5 156.1 L216.5 157.3 L217.5 158.5 L218.5 159.6 L219.5 160.8 L220.5 162.0 L221.5 163.2 L222.5 164.4 L223.5 165.6 L224.5 166.8 L225.5 167.9 L226.5 169.1 L227.5 170.3 L228.5 171.5 L229.5 172.7 L230.5 173.9 L231.5 175.1 L232.5 176.3 L233.5 177.5 L234.5 178.7 L235.5 180.0 L236.5 181.2 L237.5 182.4 L238.5 183.6 L239.5 184.8 L240.5 186.1 L241.5 187.3 L242.5 188.5 L243.5 189.8 L244.5 191.0 L245.5 192.2 L246.5 193.5 L247.5 194.7 L248.5 196.0 L249.5 197.3 L250.5 198.5 L251.5 199.8 L252.5 201.1 L253.5 202.3 L254.5 203.6 L255.5 204.9 L256.5 206.2 L257.5 207.5 L258.5 208.8 L259.5 210.1 L260.5 211.4 L261.5 212.7 L262.5 214.0 L263.5 215.4 L264.5 216.7 L265.5 218.0 L266.5 219.4 L267.5 220.7 L268.5 222.0 L269.5 223.4 L270.5 224.7 L271.5 226.1 L272.5 227.4 L273.5 228.8 L274.5 230.1 L275.5 231.4 L276.5 232.8 L277.5 234.1 L278.5 235.4 L279.5 236.8 L280.5 238.1 L281.5 239.4 L282.5 240.7 L283.5 242.0 L284.5 243.3 L285.5 244.6 L286.5 245.8 L287.5 247.1 L288.5 248.3 L289.5 249.6 L290.5 250.8 L291.5 252.0 L292.5 253.1 L293.5 254.3 L294.5 255.4 L295.5 256.6 L296.5 257.7 L297.5 258.7 L298.5 259.8 L299.5 260.8 L300.5 261.8 L301.5 262.8 L302.5 263.8 L303.5 264.7 L304.5 265.6 L305.5 266.5 L306.5 267.4 L307.5 268.2 L308.5 269.0 L309.5 269.8 L310.5 270.5 L311.5 271.2 L312.5 271.9 L313.5 272.6 L314.5 273.2 L315.5 273.8 L316.5 274.4 L317.5 274.9 L318.5 275.4 L319.5 275.9 L320.5 276.3 L321.5 276.7 L322.5 277.1 L323.5 277.4 L324.5 277.7 L325.5 278.0 L326.5 278.2 L327.5 278.4 L328.5 278.6 L329.5 278.8 L330.5 278.9 L331.5 279.0 L332.5 279.1 L333.5 279.1 L334.5 279.2 L335.5 279.2 L336.5 279.2 L337.5 279.1 L338.5 279.1 L339.5 279.0 L340.5 278.9 L341.5 278.8 L342.5 278.7 L343.5 278.6 L344.5 278.4 L345.5 278.3 L346.5 278.1 L347.5 277.9 L348.5 277.7 L349.5 277.5 L350.5 277.3 L351.5 277.1 L352.5 276.8 L353.5 276.6 L354.5 276.4 L355.5 276.1 L356.5 275.9 L357.5 275.6 L358.5 275.4 L359.5 275.1 L360.5 274.9 L361.5 274.6 L362.5 274.3 L363.5 274.1 L364.5 273.8 L365.5 273.6 L366.5 273.4 L367.5 273.1 L368.5 272.9 L369.5 272.7 L370.5 272.5 L371.5 272.3 L372.5 272.1 L373.5 271.9 L374.5 271.7 L375.5 271.6 L376.5 271.4 L377.5 271.3 L378.5 271.1 L379.5 271.0 L380.5 270.9 L381.5 270.8 L382.5 270.7 L383.5 270.6 L384.5 270.5 L385.5 270.4 L386.5 270.3 L387.5 270.2 L388.5 270.2 L389.5 270.1 L390.5 270.1 L391.5 270.0 L392.5 270.0 L393.5 270.0 L394.5 270.0 L395.5 269.9 L396.5 269.9 L397.5 269.9 L398.5 269.9 L399.5 269.9 L400.5 270.0 L401.5 270.0 L402.5 270.0 L403.5 270.1 L404.5 270.1 L405.5 270.1 L406.5 270.2 L407.5 270.2 L408.5 270.3 L409.5 270.4 L410.5 270.4 L411.5 270.5 L412.5 270.6 L413.5 270.7 L414.5 270.8 L415.5 270.9 L416.5 271.0 L417.5 271.1 L418.5 271.2 L419.5 271.3 L420.5 271.4 L421.5 271.5 L422.5 271.7 L423.5 271.8 L424.5 271.9 L425.5 272.0 L426.5 272.2 L427.5 272.3 L428.5 272.5 L429.5 272.6 L430.5 272.8 L431.5 272.9 L432.5 273.1 L433.5 273.2 L434.5 273.4 L435.5 273.6 L436.5 273.7 L437.5 273.9 L438.5 274.1 L439.5 274.2 L440.5 274.4 L441.5 274.6 L442.5 274.8 L443.5 275.0 L444.5 275.2 L445.5 275.3 L446.5 275.5 L447.5 275.7 L448.5 275.9 L449.5 276.1 L450.5 276.3 L451.5 276.5 L452.5 276.7 L453.5 276.9 L454.5 277.1 L455.5 277.4 L456.5 277.6 L457.5 277.8 L458.5 278.0 L459.5 278.2 L460.5 278.4 L461.5 278.7 L462.5 278.9 L463.5 279.1 L464.5 279.3 L465.5 279.5 L466.5 279.8 L467.5 280.0 L468.5 280.2 L469.5 280.5 L470.5 280.7 L471.5 280.9 L472.5 281.2 L473.5 281.4 L474.5 281.6 L475.5 281.9 L476.5 282.1 L477.5 282.4 L478.5 282.6 L479.5 282.8 L480.5 283.1 L481.5 283.3 L482.5 283.6 L483.5 283.8 L484.5 284.1 L485.5 284.3 L486.5 284.6 L487.5 284.8 L488.5 285.1 L489.5 285.3 L490.5 285.5 L491.5 285.8 L492.5 286.0 L493.5 286.3 L494.5 286.5 L495.5 286.8 L496.5 287.0 L497.5 287.3 L498.5 287.5 L499.5 287.8 L500.5 288.0 L501.5 288.3 L502.5 288.5 L503.5 288.8 L504.5 289.0 L505.5 289.3 L506.5 289.5 L507.5 289.8 L508.5 290.0 L509.5 290.3 L510.5 290.5 L511.5 290.8 L512.5 291.0 L513.5 291.2 L514.5 291.5 L515.5 291.7 L516.5 292.0 L517.5 292.2 L518.5 292.4 L519.5 292.7 L520.5 292.9 L521.5 293.1 L522.5 293.3 L523.5 293.6 L524.5 293.8 L525.5 294.0 L526.5 294.2 L527.5 294.5 L528.5 294.7 L529.5 294.9 L530.5 295.1 L531.5 295.3 L532.5 295.5 L533.5 295.7 L534.5 295.9 L535.5 296.1 L536.5 296.3 L537.5 296.5 L538.5 296.7 L539.5 296.8 L540.5 297.0 L541.5 297.2 L542.5 297.4 L543.5 297.5 L544.5 297.7 L545.5 297.9 L546.5 298.0 L547.5 298.2 L548.5 298.3 L549.5 298.5 L550.5 298.6 L551.5 298.7 L552.5 298.9 L553.5 299.0 L554.5 299.1 L555.5 299.2 L556.5 299.4 L557.5 299.5 L558.5 299.6 L559.5 299.7 L560.5 299.8 L561.5 299.9 L562.5 299.9 L563.5 300.0 L564.5 300.1 L565.5 300.2 L566.5 300.2 L567.5 300.3 L568.5 300.4 L569.5 300.4 L570.5 300.5 L571.5 300.5 L572.5 300.6 L573.5 300.6 L574.5 300.6 L575.5 300.7 L576.5 300.7 L577.5 300.7 L578.5 300.8 L579.5 300.8 L580.5 300.8 L581.5 300.8 L582.5 300.9 L583.5 300.9 L584.5 300.9 L585.5 300.9 L586.5 301.0 L587.5 301.0 L588.5 301.0 L589.5 301.0 L590.5 301.0 L591.5 301.1 L592.5 301.1 L593.5 301.1 L594.5 301.1 L595.5 301.1 L596.5 301.2 L597.5 301.2 L598.5 301.2 L599.5 301.2 L600.5 301.3 L601.5 301.3 L602.5 301.3 L603.5 301.4 L604.5 301.4 L605.5 301.4 L606.5 301.5 L607.5 301.5 L608.5 301.6 L609.5 301.6 L610.5 301.7 L611.5 301.7 L612.5 301.8 L613.5 301.9 L614.5 301.9 L615.5 302.0 L616.5 302.1 L617.5 302.2" fill="none" stroke="#e05a5a" stroke-width="2.4" stroke-linejoin="round" shape-rendering="crispEdges"/>
<path d="M97.0 385.6 L98.9 384.1 L99.2 386.8 L101.1 388.2 L102.2 391.2 L103.4 393.5 L103.8 402.5 L105.2 405.5 L107.1 407.8 L107.9 412.2 L108.2 404.0 L108.6 393.5 L109.4 395.8 L111.2 392.8 L112.0 389.8 L113.1 389.0 L113.9 386.8 L115.0 390.5 L116.1 392.8 L118.0 389.8 L119.9 394.6 L122.1 390.5 L123.0 387.5 L124.0 391.0 L125.8 388.5 L126.0 395.0 L127.0 391.0 L128.5 387.5 L129.5 390.0 L131.0 389.5 L132.8 388.5 L134.0 390.0 L134.5 385.5 L136.0 384.5 L136.5 390.0 L138.0 392.0 L139.8 395.0 L140.5 391.0 L143.0 390.0 L145.5 390.0 L146.8 386.8 L148.5 387.5 L150.0 389.0 L151.0 390.0 L152.0 393.0 L152.8 384.0 L153.8 384.5 L155.0 387.0 L156.5 388.5 L158.2 392.0 L159.5 387.0 L160.8 384.8 L162.0 387.0 L164.0 386.8 L165.5 389.0 L167.0 391.5 L169.0 390.5 L170.0 387.0 L171.0 389.0 L172.8 393.0 L174.0 389.0 L175.5 387.5 L177.8 384.8 L178.0 385.0 L181.0 386.5 L183.0 384.5 L184.0 382.5 L186.0 384.5 L187.5 381.0 L188.8 379.8 L190.0 382.5 L192.0 381.0 L194.5 381.0 L196.0 384.0 L198.0 387.5 L199.5 385.0 L202.0 380.8 L203.5 383.0 L205.0 386.5 L206.5 383.5 L207.5 385.0 L208.5 381.5 L209.8 378.8 L211.0 380.0 L212.5 382.0 L213.8 380.5 L215.0 387.0 L215.2 382.5 L217.5 383.5 L220.0 383.5 L221.5 381.5 L223.0 378.8 L224.5 380.0 L226.0 381.0 L226.5 385.0 L228.0 387.0 L228.5 382.5 L230.5 384.0 L232.0 382.0 L233.2 379.8 L235.0 383.5 L236.5 380.5 L238.0 377.5 L240.5 376.5 L241.8 373.5 L242.5 376.0 L244.5 377.0 L246.0 379.5 L247.5 382.0 L248.5 377.5 L250.5 379.0 L252.5 374.5 L254.0 376.5 L255.0 382.0 L256.5 375.0 L258.0 373.5 L259.5 376.5 L261.0 379.0 L262.5 376.0 L263.5 374.8 L266.5 374.0 L268.0 377.0 L269.1 380.0 L270.2 377.8 L271.8 374.0 L273.2 375.5 L275.1 376.2 L276.2 369.5 L278.9 368.0 L281.9 368.8 L283.4 371.8 L284.1 375.5 L286.0 372.5 L286.8 362.0 L288.6 360.5 L290.1 370.2 L291.8 362.9 L293.9 356.8 L294.8 362.0 L296.6 360.2 L298.8 362.0 L300.9 363.8 L303.1 364.6 L304.9 359.4 L305.8 365.5 L307.5 370.8 L311.0 365.5 L313.2 363.8 L314.1 369.0 L314.5 353.2 L315.4 338.4 L317.0 336.4 L318.3 341.0 L319.5 354.1 L321.7 363.8 L322.6 349.8 L323.9 343.6 L325.2 348.9 L326.9 365.5 L328.2 348.9 L329.6 347.6 L331.3 351.5 L333.1 360.2 L334.8 372.5 L336.1 358.5 L338.8 353.7 L341.4 357.6 L344.0 362.0 L346.0 365.3 L348.0 364.0 L350.7 368.0 L352.7 360.7 L354.7 362.0 L356.0 366.7 L357.3 364.0 L358.0 368.0 L360.0 364.7 L361.3 367.3 L364.0 368.0 L365.3 370.0 L366.0 374.0 L367.3 374.0 L369.0 380.7 L370.7 377.3 L372.7 375.0 L374.0 370.0 L375.7 365.3 L378.0 364.7 L380.0 365.3 L381.7 361.0 L384.0 362.7 L385.0 366.7 L387.3 364.7 L390.0 362.0 L392.7 360.0 L393.3 363.3 L395.0 364.3 L396.0 367.3 L397.7 371.3 L398.7 366.7 L401.3 364.7 L402.7 362.0 L404.7 364.0 L406.7 365.3 L409.3 368.0 L412.0 367.0 L413.3 369.3 L416.7 372.0 L418.0 374.0 L420.0 373.3 L422.0 370.7 L423.3 374.0 L425.3 372.7 L426.7 376.0 L427.3 380.0 L429.0 382.0 L430.6 384.8 L430.9 381.8 L433.8 381.2 L436.8 383.6 L438.5 385.9 L441.4 388.8 L443.8 391.2 L445.5 388.2 L447.2 387.7 L448.7 399.9 L449.0 384.2 L452.5 383.6 L453.7 392.9 L454.2 400.5 L456.0 399.3 L458.0 398.0 L460.0 396.0 L462.0 400.0 L464.0 402.7 L466.0 398.0 L467.0 392.7 L467.7 402.0 L469.0 406.0 L471.0 407.3 L472.7 404.0 L473.7 395.3 L476.0 395.3 L476.7 400.7 L478.0 406.0 L479.3 412.7 L481.3 414.0 L483.3 410.7 L484.7 408.0 L486.7 411.3 L490.0 406.7 L492.0 414.0 L494.0 408.0 L496.0 406.0 L497.3 401.3 L499.3 399.3 L500.7 394.7 L502.0 389.7 L503.3 394.7 L504.0 403.3 L506.7 409.3 L507.7 398.0 L510.0 394.7 L510.7 400.7 L511.3 408.7 L513.3 407.3 L515.9 410.5 L517.7 404.1 L521.2 404.1 L524.8 401.2 L526.2 404.8 L528.3 401.2 L531.8 403.4 L534.0 401.2 L535.4 396.3 L537.9 392.8 L539.6 394.2 L541.0 396.0 L543.1 397.1 L546.2 392.1 L549.7 389.3 L550.0 392.8 L552.8 388.1 L555.0 392.8 L556.9 388.4 L560.0 385.9 L563.8 384.0 L565.6 380.9 L566.9 382.1 L569.4 384.6 L572.5 378.4 L575.0 380.9 L577.5 383.4 L580.6 385.8 L582.6 384.5 L584.6 379.9 L586.5 381.2 L589.2 383.2 L590.5 384.5 L592.4 382.5 L595.1 383.8 L597.7 382.5 L599.0 385.8 L601.0 382.5 L604.2 382.5 L606.9 381.2 L608.8 378.6 L610.2 384.5 L612.8 383.8 L615.4 383.2 L617.4 382.5" fill="none" stroke="#e05a5a" stroke-width="2.5" stroke-linejoin="bevel" shape-rendering="crispEdges"/>
<path d="M571 36h1v1h-1zM570 37h1v1h-1zM571 37h1v1h-1zM572 37h1v1h-1zM569 38h1v1h-1zM570 38h1v1h-1zM572 38h1v1h-1zM573 38h1v1h-1zM570 39h1v1h-1zM571 39h1v1h-1zM572 39h1v1h-1zM571 40h1v1h-1z" fill="#1a1a1a"/>
<rect x="546" y="56" width="50" height="2" fill="#e05a5a"/>
</svg>
<div class="t g" id="t0" style="transform:translate(35.79px,14.45px) scale(1.1442,1.0843)">10</div>
<div class="t g" id="t1" style="transform:translate(56.76px,13.49px) scale(0.9431,0.7106)">3</div>
<div class="t g" id="t2" style="transform:translate(35.79px,119.36px) scale(1.1442,1.0704)">10</div>
<div class="t g" id="t3" style="transform:translate(56.82px,117.50px) scale(0.9185,0.7069)">2</div>
<div class="t g" id="t4" style="transform:translate(35.79px,221.82px) scale(1.1442,1.0843)">10</div>
<div class="t g" id="t5" style="transform:translate(57.43px,220.08px) scale(0.8271,0.7418)">1</div>
<div class="t g" id="t6" style="transform:translate(35.79px,325.82px) scale(1.1442,1.0843)">10</div>
<div class="t g" id="t7" style="transform:translate(57.12px,324.46px) scale(0.8874,0.6986)">0</div>
<div class="t g" id="t8" style="transform:translate(72.79px,433.20px) scale(1.1108,0.9833)">0</div>
<div class="t g" id="t9" style="transform:translate(114.53px,433.28px) scale(1.1136,0.9808)">0.05</div>
<div class="t g" id="t10" style="transform:translate(173.75px,433.22px) scale(1.1096,0.9790)">0.1</div>
<div class="t g" id="t11" style="transform:translate(222.53px,433.29px) scale(1.1136,0.9735)">0.15</div>
<div class="t g" id="t12" style="transform:translate(281.75px,433.22px) scale(1.1123,0.9790)">0.2</div>
<div class="t g" id="t13" style="transform:translate(330.53px,433.28px) scale(1.1136,0.9741)">0.25</div>
<div class="t g" id="t14" style="transform:translate(389.75px,433.20px) scale(1.1051,0.9907)">0.3</div>
<div class="t g" id="t15" style="transform:translate(438.53px,433.28px) scale(1.1136,0.9808)">0.35</div>
<div class="t g" id="t16" style="transform:translate(497.50px,433.20px) scale(1.1012,0.9913)">0.4</div>
<div class="t g" id="t17" style="transform:translate(546.53px,433.28px) scale(1.1136,0.9808)">0.45</div>
<div class="t g" id="t18" style="transform:translate(605.77px,433.27px) scale(1.0843,0.9852)">0.5</div>
<div class="t k" id="t19" style="transform:translate(426.75px,29.57px) scale(1.1523,1.0169)">Experimental</div>
<div class="t k" id="t20" style="transform:translate(410.18px,49.04px) scale(1.0057,0.9848)">FoXS &chi;</div>
<div class="t k" id="t21" style="transform:translate(465.93px,46.17px) scale(0.9284,0.7745)">2</div>
<div class="t k" id="t22" style="transform:translate(480.20px,49.41px) scale(1.1831,0.9490)">= 56.1</div>
<div class="t k" id="t23" style="transform:translate(319.02px,460.93px) scale(1.1180,0.9932)">q [&Aring;</div>
<div class="t k" id="t24" style="transform:translate(353.36px,457.94px) scale(0.8776,0.7532)">-1</div>
<div class="t k" id="t25" style="transform:translate(370.08px,461.18px) scale(1.2214,0.9172)">]</div>
<div class="t k" id="t26" style="transform:translate(13.91px,232.84px) rotate(-90deg) scale(1.1356,1.0060)">I(q) log-scale</div>
<div class="t k" id="t27" style="transform:translate(36.02px,413.44px) rotate(-90deg) scale(1.0841,1.0297)">Residual</div>
</body></html>
